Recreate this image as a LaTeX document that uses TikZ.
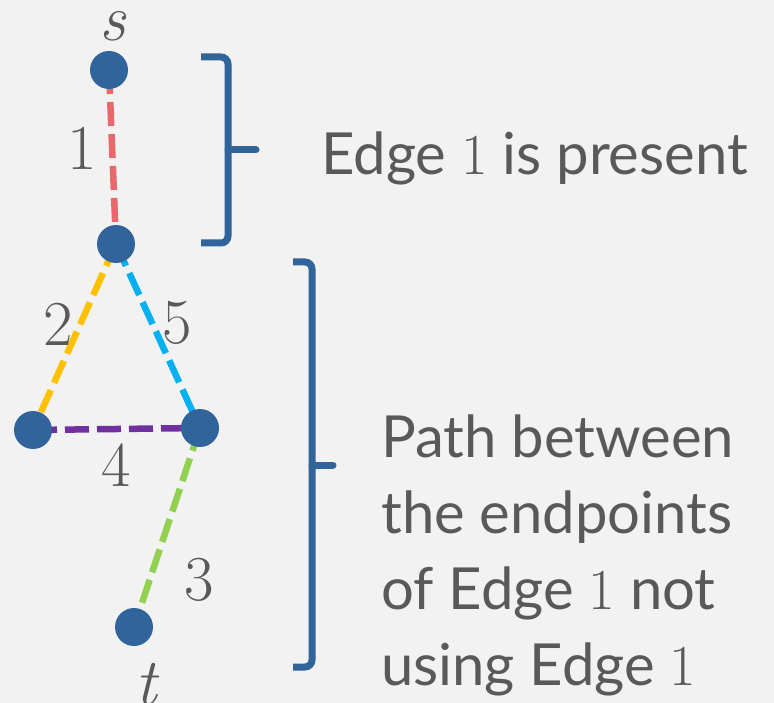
\documentclass[tikz,border=0pt]{standalone}
\usepackage{fontspec}
\setmainfont{Lato}
\pgfdeclarelayer{bg}
\pgfsetlayers{bg,main}
\definecolor{bgc}{HTML}{F2F2F2}
\definecolor{nodec}{HTML}{31649B}
\definecolor{txtc}{HTML}{595959}
\definecolor{cred}{HTML}{E8686B}
\definecolor{cyel}{HTML}{FFC000}
\definecolor{ccyan}{HTML}{00B0F0}
\definecolor{cpur}{HTML}{7030A0}
\definecolor{cgrn}{HTML}{92D050}
\newcommand{\lmfont}{\fontfamily{lmr}\selectfont}
\newcommand{\one}{{\lmfont 1}}
\tikzset{
  vert/.style={circle, fill=nodec, minimum size=38pt, inner sep=0pt},
  edgeline/.style={line width=6.5pt, dash pattern=on 24pt off 8pt},
  elabel/.style={text=txtc, inner sep=0pt, font=\fontsize{64}{64}\lmfont},
  vlabel/.style={text=txtc, inner sep=0pt, font=\fontsize{66}{66}\lmfont\itshape},
  bracel/.style={draw=nodec, line width=7pt, rounded corners=7pt},
  bracetip/.style={draw=nodec, line width=7pt, line cap=round},
  bigtext/.style={text=txtc, inner sep=0pt, font=\fontsize{58}{76}\selectfont, align=left}
}
\begin{document}
\begin{tikzpicture}[x=1pt, y=-1pt]
\useasboundingbox (0,0) rectangle (774,703);
\begin{pgfonlayer}{bg}
\fill[bgc] (0,0) rectangle (774,703);
\end{pgfonlayer}
% vertices
\node[vert] (s) at (109,70) {};
\node[vert] (u) at (116,244) {};
\node[vert] (a) at (33,430) {};
\node[vert] (b) at (200,428) {};
\node[vert] (t) at (134,627) {};
% edges
\begin{pgfonlayer}{bg}
\draw[edgeline, cred] (s.center) -- (u.center);
\draw[edgeline, cyel] (u.center) -- (a.center);
\draw[edgeline, ccyan] (u.center) -- (b.center);
\draw[edgeline, cpur] (a.center) -- (b.center);
\draw[edgeline, cgrn] (b.center) -- (t.center);
\end{pgfonlayer}
% labels
\node[vlabel] (ls) at (113,26) {s};
\node[vlabel, anchor=north] (lt) at (146,663) {t};
\node[elabel] (l1) at (82,148) {1};
\node[elabel] (l2) at (58,324) {2};
\node[elabel] (l5) at (177,323) {5};
\node[elabel] (l4) at (116,465) {4};
\node[elabel] (l3) at (199,580) {3};
% braces
\coordinate (b1tip) at (256,150);
\coordinate (b1mid) at (228,150);
\draw[bracel] (201,57) -| (b1mid);
\draw[bracel] (201,243) -| (b1mid);
\draw[bracetip] (b1mid) -- (b1tip);
\coordinate (b2tip) at (333,465);
\coordinate (b2mid) at (312,465);
\draw[bracel] (293,262) -| (b2mid);
\draw[bracel] (293,667) -| (b2mid);
\draw[bracetip] (b2mid) -- (b2tip);
% texts
\node[bigtext, anchor=base west] (txt1) at (321,175) {Edge \one{} is present};
\node[bigtext, anchor=base west] (txt2) at (381,685) {Path between\\the endpoints\\of Edge \one{} not\\using Edge \one};
\end{tikzpicture}
\end{document}
